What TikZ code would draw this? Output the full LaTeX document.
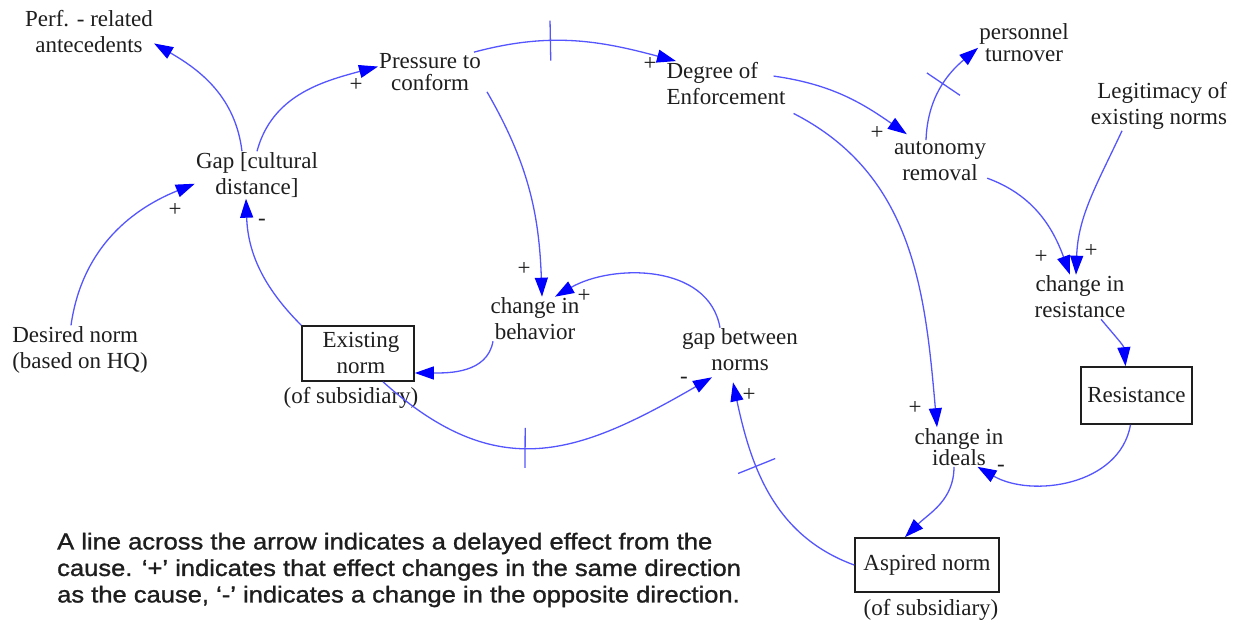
\documentclass[tikz,border=0pt]{standalone}
\usepackage{fontspec}
\setmainfont{Liberation Serif}
\newfontfamily\legendfont[FakeStretch=1.11,FakeBold=1.2]{Liberation Sans}
\usetikzlibrary{arrows.meta}
\definecolor{linkblue}{RGB}{85,85,255}
\definecolor{txt}{RGB}{30,30,30}
\lineskiplimit=-100pt
\begin{document}
\begin{tikzpicture}[x=1pt,y=1pt,
  lbl/.style={align=center, inner sep=1pt, text=txt, font=\fontsize{23}{26}\selectfont},
  tight/.style={font=\fontsize{23}{22}\selectfont},
  mid/.style={font=\fontsize{23}{21}\selectfont},
  stock/.style={draw=txt, line width=1.6pt, inner sep=0pt, align=center, text=txt, font=\fontsize{23}{26}\selectfont},
  link/.style={draw=linkblue, line width=1.3pt, -{Triangle[length=19pt,width=13pt,color=blue]}},
  sign/.style={text=txt, inner sep=0pt, font=\fontsize{23}{23}\selectfont},
  delaymark/.style={draw=linkblue, line width=1.3pt, minimum width=0pt, minimum height=40pt, inner sep=0pt, sloped},
]
\useasboundingbox (0,0) rectangle (1239,623);

% nodes
\node[lbl] (perf) at (89,591) {Perf. - related\\antecedents};
\node[lbl,tight] (press) at (430,551) {Pressure to\\conform};
\node[lbl,align=left] (deg) at (726,539.5) {Degree of\\Enforcement};
\node[lbl,tight] (pers) at (1024,580) {personnel\\turnover};
\node[lbl,align=right] (legit) at (1159,517) {Legitimacy of\\existing norms};
\node[lbl] (auto) at (940,462) {autonomy\\removal};
\node[lbl] (gap) at (257,448) {Gap [cultural\\distance]};
\node[lbl] (chres) at (1080,326) {change in\\resistance};
\node[lbl] (chbeh) at (535,304) {change in\\behavior};
\node[lbl] (gapn) at (740,273) {gap between\\norms};
\node[lbl,align=left] (des) at (80,273) {Desired norm\\(based on HQ)};
\node[stock,minimum width=112pt,minimum height=55pt] (exist) at (358,269.5) {\hspace*{6pt}Existing\\\hspace*{6pt}norm};
\node[lbl] (existsub) at (351,225) {(of subsidiary)};
\node[stock,minimum width=111pt,minimum height=57pt] (res) at (1136.5,227.5) {Resistance};
\node[lbl,mid] (chid) at (959,176) {change in\\ideals};
\node[stock,minimum width=144pt,minimum height=54pt] (asp) at (927,58) {Aspired norm};
\node[lbl] (aspsub) at (931,13) {(of subsidiary)};

\node[anchor=west, align=left, inner sep=0pt, text=txt,
      font=\legendfont\fontsize{23}{26.5}\selectfont] (legend) at (57,53)
  {A line across the arrow indicates a delayed effect from the\\
   cause. ‘+’ indicates that effect changes in the same direction\\
   as the cause, ‘-’ indicates a change in the opposite direction.};

% links
\draw[link] ([xshift=-15pt]gap.north) to[out=97,in=-30] (perf.-10);
\draw[link] (gap.north) to[out=75,in=-165] (press.174);
\draw[link] ([xshift=-9pt]des.north) to[out=82,in=-158] (gap.188);
\draw[link] (exist.north west) to[out=135,in=-88] ([xshift=-11pt]gap.south);
\draw[link] ([xshift=44pt]press.north) to[out=15,in=165] node[delaymark,pos=0.37]{} ([xshift=-50pt]deg.north);
\draw[link] ([xshift=57pt]press.south) to[out=-60,in=92] ([xshift=7pt]chbeh.north);
\draw[link] ([shift={(-13pt,-15pt)}]deg.north east) to[out=-8,in=145] ([shift={(14pt,6pt)}]auto.north west);
\draw[link] ([shift={(7pt,-30pt)}]deg.east) to[out=-27,in=95] ([xshift=-22pt]chid.north);
\draw[link] ([xshift=-14pt]auto.north) to[out=88,in=-140] node[delaymark,pos=0.55]{} (pers.186);
\draw[link] (auto.-20) to[out=-20,in=110] ([xshift=-10pt]chres.north);
\draw[link] ([xshift=-37pt]legit.south) to[out=-115,in=88] ([xshift=-4pt]chres.north);
\draw[link] ([xshift=21pt]chres.south) to[out=-50,in=95] ([xshift=-11pt]res.north);
\draw[link] ([xshift=-6pt]res.south) to[out=-100,in=-30] (chid.-47);
\draw[link] ([xshift=-5pt]chid.south) to[out=-90,in=45] ([xshift=-22pt]asp.north);
\draw[link] (asp.west) to[out=160,in=-78] node[delaymark,pos=0.64]{} ([shift={(-7pt,-10pt)}]gapn.south);
\draw[link] ([xshift=25pt]exist.south) to[out=-42,in=-150,looseness=1.2] node[delaymark,pos=0.45]{} ([shift={(-28pt,-5pt)}]gapn.south);
\draw[link] ([xshift=-42pt]chbeh.south) to[out=-100,in=0] ([yshift=-19.5pt]exist.east);
\draw[link] ([xshift=-20pt]gapn.north) to[out=100,in=30] ([xshift=20pt]chbeh.north);

% signs
\node[sign] (s1) at (356,538) {+};
\node[sign] (s2) at (175,413) {+};
\node[sign] (s3) at (262,401) {-};
\node[sign] (s4) at (650,559) {+};
\node[sign] (s5) at (524,354) {+};
\node[sign] (s6) at (584,327) {+};
\node[sign] (s7) at (684,243) {-};
\node[sign] (s8) at (749,228) {+};
\node[sign] (s9) at (877,490) {+};
\node[sign] (s10) at (1041,366) {+};
\node[sign] (s11) at (1091,372) {+};
\node[sign] (s12) at (915,215) {+};
\node[sign] (s13) at (1001,155) {-};
\end{tikzpicture}
\end{document}
